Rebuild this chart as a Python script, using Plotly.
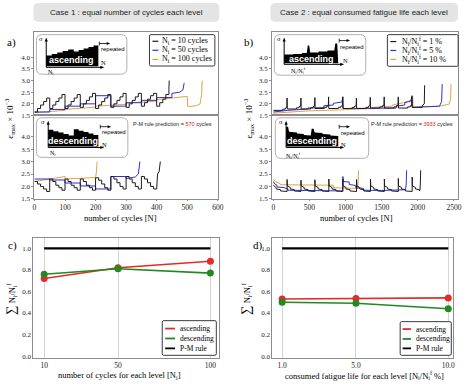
import plotly.graph_objects as go

W, H = 474, 388
SERIF = "Liberation Serif, DejaVu Serif, serif"
SANS = "Liberation Sans, Arial, sans-serif"
C_BLACK = "#1c1c1c"
C_BLUE = "#2f2fd2"
C_ORANGE = "#e6a044"
C_RED = "#e42a2a"
C_GREEN = "#208a20"
FRAME = "#8c8c8c"

# ---------------- data ----------------
# Case 1 : equal number of cycles each level (strain level per loading level, x1e-3)
a_asc_n10_levels = [1.65, 1.80, 1.95, 2.10, 2.25,
                    1.80, 1.95, 2.10, 2.25, 2.40,
                    1.80, 1.95, 2.10, 2.25, 2.40,
                    1.85, 2.00, 2.15, 2.30, 2.45,
                    1.80, 1.95, 2.10, 2.25, 2.40,
                    1.85, 2.00, 2.15, 2.30, 2.45,
                    1.85, 2.00, 2.15, 2.30, 2.45,
                    1.90, 2.05, 2.20, 2.35, 2.45,
                    1.90, 2.05, 2.20, 2.40]
a_asc_n10_tail_x = [440, 441]
a_asc_n10_tail_y = [2.6, 3.0]

a_asc_n50_levels = [1.65, 1.76, 1.90, 2.00, 2.35, 1.90, 2.05, 2.15, 2.27]
a_asc_n50_tail_x = [450, 475, 486, 490]
a_asc_n50_tail_y = [2.45, 2.5, 2.6, 2.9]

a_asc_n100_x = [0, 100, 100, 200, 200, 300, 300, 400, 400, 495, 500, 502, 530, 542, 547, 549]
a_asc_n100_y = [1.62, 1.72, 1.76, 1.86, 1.90, 1.98, 2.03, 2.12, 2.18, 2.30, 2.32, 1.88, 1.92, 2.0, 2.4, 3.0]

a_desc_n10_levels = [2.20, 2.10, 2.00, 1.90, 1.80,
                     2.30, 2.20, 2.05, 1.95, 1.85,
                     2.30, 2.20, 2.05, 1.95, 1.85,
                     2.30, 2.20, 2.05, 1.95, 1.85,
                     2.35, 2.25, 2.10, 1.95, 1.85,
                     2.40, 2.30, 2.15, 2.00, 1.90,
                     2.40, 2.30, 2.15, 2.00, 1.90,
                     2.40, 2.30, 2.15, 2.00, 1.90]
a_desc_n10_tail_x = [403, 408, 412]
a_desc_n10_tail_y = [2.5, 2.6, 3.0]

a_desc_n50_levels = [2.30, 2.26, 2.14, 2.02, 1.90, 2.40]
a_desc_n50_tail_x = [300, 300, 330, 340, 345]
a_desc_n50_tail_y = [2.40, 2.32, 2.38, 2.5, 3.0]

a_desc_n100_x = [0, 50, 100, 100, 150, 200, 203, 205]
a_desc_n100_y = [2.2, 2.3, 2.4, 2.3, 2.33, 2.36, 2.6, 3.0]

# Case 2 : equal consumed fatigue life each level
b_asc_p1_spikes = [190, 382, 575, 765, 960, 1150, 1342, 1535, 1730, 1920]
b_asc_p1_peaks = [2.25, 2.25, 2.27, 2.30, 2.30, 2.25, 2.28, 2.30, 2.30, 2.35]
b_asc_p1_bases = [1.72, 1.78, 1.78, 1.80, 1.80, 1.80, 1.80, 1.82, 1.82, 1.82, 1.85]
b_asc_p1_tooth_dx = [-60, -60, -25, -25, -4]
b_asc_p1_tooth_dy = [0.0, 0.05, 0.05, 0.10, 0.12]
b_asc_p1_tail_x = [2060, 2060, 2090, 2095]
b_asc_p1_tail_y = [1.85, 1.92, 2.0, 2.8]

b_asc_p5_x = [0, 200, 480, 480, 700, 700, 830, 830, 950, 962, 966, 970, 1700, 1700, 1820, 1820, 1905,
              1915, 1920, 1925, 2300, 2330, 2338]
b_asc_p5_y = [1.65, 1.72, 1.78, 1.82, 1.84, 1.92, 1.95, 2.02, 2.08, 2.30, 1.95, 1.80, 1.82, 1.90, 1.95,
              2.05, 2.12, 2.30, 1.90, 1.85, 1.90, 2.10, 2.85]

b_asc_p10_x = [0, 200, 500, 900, 1300, 1380, 1380, 1650, 1650, 1800, 1900, 1930, 1935, 2300, 2430, 2455, 2460]
b_asc_p10_y = [1.60, 1.65, 1.70, 1.74, 1.78, 1.80, 1.85, 1.90, 1.95, 2.05, 2.15, 2.30, 1.85, 1.90, 1.98, 2.2, 2.85]

b_desc_p1_head_x = [0, 40, 40, 100, 100]
b_desc_p1_head_y = [2.05, 1.95, 1.90, 1.87, 1.82]
b_desc_p1_spikes = [190, 382, 575, 768, 962, 1152, 1345, 1537, 1730, 1922]
b_desc_p1_peaks = [2.28, 2.25, 2.27, 2.30, 2.30, 2.28, 2.30, 2.30, 2.32, 2.38]
b_desc_p1_after_dx = [4, 45, 45, 100, 100]
b_desc_p1_after_y = [2.02, 1.96, 1.90, 1.87, 1.82]
b_desc_p1_low = 1.80
b_desc_p1_tail_x = [2030, 2035, 2040]
b_desc_p1_tail_y = [1.85, 2.1, 2.65]

b_desc_p5_x = [0, 20, 50, 50, 150, 200, 200, 500, 960, 963, 970, 1050, 1050, 1140, 1140, 1250, 1250,
               1500, 1830, 1840, 1845]
b_desc_p5_y = [2.20, 2.10, 2.05, 1.98, 1.95, 1.90, 1.85, 1.83, 1.82, 2.40, 2.20, 2.18, 2.08, 2.04, 1.95,
               1.92, 1.85, 1.84, 1.87, 2.1, 2.65]

b_desc_p10_x = [0, 30, 100, 100, 830, 830, 1170, 1175, 1180]
b_desc_p10_y = [2.30, 2.20, 2.10, 2.07, 2.05, 1.95, 1.92, 2.2, 2.65]

# panels c and d
c_x = [10, 50, 100]
c_asc = [0.72, 0.82, 0.88]
c_desc = [0.76, 0.81, 0.77]
c_pm = [1.0, 1.0, 1.0]
d_x = [1.0, 5.0, 10.0]
d_asc = [0.53, 0.535, 0.54]
d_desc = [0.50, 0.49, 0.44]
d_pm = [1.0, 1.0, 1.0]

pm_case1 = 570
pm_case2 = 3933


# ---------------- helpers ----------------
def steps(levels, n):
    xs, ys = [], []
    for i, v in enumerate(levels):
        xs += [i * n, (i + 1) * n]
        ys += [v, v]
    return xs, ys


def spiky_asc():
    xs, ys = [0], [b_asc_p1_bases[0]]
    for i, s in enumerate(b_asc_p1_spikes):
        b = b_asc_p1_bases[i]
        for dx, dy in zip(b_asc_p1_tooth_dx, b_asc_p1_tooth_dy):
            xs.append(s + dx)
            ys.append(b + dy)
        xs += [s, s + 3, s + 3]
        ys += [b_asc_p1_peaks[i], b + 0.1, b_asc_p1_bases[i + 1]]
    xs += b_asc_p1_tail_x
    ys += b_asc_p1_tail_y
    return xs, ys


def spiky_desc():
    xs, ys = list(b_desc_p1_head_x), list(b_desc_p1_head_y)
    for i, s in enumerate(b_desc_p1_spikes):
        xs += [s, s]
        ys += [b_desc_p1_low, b_desc_p1_peaks[i]]
        for dx, v in zip(b_desc_p1_after_dx, b_desc_p1_after_y):
            xs.append(s + dx)
            ys.append(v)
    xs += b_desc_p1_tail_x
    ys += b_desc_p1_tail_y
    return xs, ys


def dom_x(a, b):
    return [a / W, b / W]


def dom_y(top, bottom):
    return [1 - bottom / H, 1 - top / H]


shapes, annos = [], []


def P(x, y):
    return f"{x / W:.5f},{1 - y / H:.5f}"


def poly(pts, fill="black", lw=0, lc=None):
    path = "M" + " L".join(P(x, y) for x, y in pts) + " Z"
    shapes.append(dict(type="path", xref="paper", yref="paper", path=path, fillcolor=fill,
                       line=dict(width=lw, color=lc or fill)))


def line(x0, y0, x1, y1, color="black", w=1):
    shapes.append(dict(type="line", xref="paper", yref="paper", x0=x0 / W, y0=1 - y0 / H,
                       x1=x1 / W, y1=1 - y1 / H, line=dict(color=color, width=w)))


def rrect(x0, y0, x1, y1, r, fill, lc, lw=1):
    path = (f"M{P(x0 + r, y0)} L{P(x1 - r, y0)} Q{P(x1, y0)} {P(x1, y0 + r)} "
            f"L{P(x1, y1 - r)} Q{P(x1, y1)} {P(x1 - r, y1)} L{P(x0 + r, y1)} "
            f"Q{P(x0, y1)} {P(x0, y1 - r)} L{P(x0, y0 + r)} Q{P(x0, y0)} {P(x0 + r, y0)} Z")
    shapes.append(dict(type="path", xref="paper", yref="paper", path=path, fillcolor=fill,
                       line=dict(width=lw, color=lc)))


def txt(x, y, s, size, color="black", family=SERIF, xanchor="center", angle=0):
    annos.append(dict(x=x / W, y=1 - y / H, xref="paper", yref="paper", text=s, showarrow=False,
                      font=dict(size=size, color=color, family=family), xanchor=xanchor,
                      yanchor="middle", textangle=angle, borderpad=0))


def arrow_h(x0, x1, y, head=3):
    line(x0, y, x1 - head, y, "black", 1)
    poly([(x1, y), (x1 - head - 1, y - 1.6), (x1 - head - 1, y + 1.6)])


def arrow_v(x, y0, y1):
    line(x, y0, x, y1 + 3, "black", 1)
    poly([(x, y1), (x - 1.6, y1 + 4), (x + 1.6, y1 + 4)])


def repeated(x, y):
    line(x, y - 2, x, y + 2, "black", 0.8)
    line(x, y, x + 8, y, "black", 0.8)
    poly([(x + 11, y), (x + 7.5, y - 1.5), (x + 7.5, y + 1.5)])


def inset(box, sig_x, base_y, top_y, shape_pts, label, label_pos, ni_text, ni_pos, n_pos, rep_pos,
          rep_txt_pos):
    rrect(*box, 6, "white", "#b0b0b0", 1)
    arrow_v(sig_x, base_y + 1, top_y)
    txt(sig_x - 5, top_y + 1, "σ", 6.5)
    poly(shape_pts)
    arrow_h(sig_x, shape_pts[-1][0] + 6, base_y + 1)
    txt(label_pos[0], label_pos[1], "<b>" + label + "</b>", 9, "white", SANS)
    txt(n_pos[0], n_pos[1], "N", 6.5)
    txt(ni_pos[0], ni_pos[1], ni_text, 6)
    repeated(*rep_pos)
    txt(rep_txt_pos[0], rep_txt_pos[1], "repeated", 6, "black", SANS)


def step_shape(x0, x1, tops, bottom):
    pts = [(x0, bottom)]
    n = len(tops)
    for i, t in enumerate(tops):
        xa = x0 + (x1 - x0) * i / n
        xb = x0 + (x1 - x0) * (i + 1) / n
        pts += [(xa, t), (xb, t)]
    pts.append((x1, bottom))
    return pts


# ---------------- figure ----------------
fig = go.Figure()


def add(x, y, color, xa, ya, width=1.0):
    fig.add_trace(go.Scatter(x=x, y=y, mode="lines", line=dict(color=color, width=width),
                             xaxis=xa, yaxis=ya, showlegend=False, hoverinfo="skip"))


# panel a top (ascending)
add(a_asc_n100_x, a_asc_n100_y, C_ORANGE, "x", "y")
xs, ys = steps(a_asc_n50_levels, 50)
add(xs + a_asc_n50_tail_x, ys + a_asc_n50_tail_y, C_BLUE, "x", "y")
xs, ys = steps(a_asc_n10_levels, 10)
add(xs + a_asc_n10_tail_x, ys + a_asc_n10_tail_y, C_BLACK, "x", "y")
# panel a bottom (descending)
add(a_desc_n100_x, a_desc_n100_y, C_ORANGE, "x2", "y2")
xs, ys = steps(a_desc_n50_levels, 50)
add(xs + a_desc_n50_tail_x, ys + a_desc_n50_tail_y, C_BLUE, "x2", "y2")
xs, ys = steps(a_desc_n10_levels, 10)
add(xs + a_desc_n10_tail_x, ys + a_desc_n10_tail_y, C_BLACK, "x2", "y2")
# panel b top (ascending)
add(b_asc_p10_x, b_asc_p10_y, C_ORANGE, "x3", "y3")
add(b_asc_p5_x, b_asc_p5_y, C_BLUE, "x3", "y3")
xs, ys = spiky_asc()
add(xs, ys, C_BLACK, "x3", "y3")
# panel b bottom (descending)
add(b_desc_p10_x, b_desc_p10_y, C_ORANGE, "x4", "y4")
add(b_desc_p5_x, b_desc_p5_y, C_BLUE, "x4", "y4")
xs, ys = spiky_desc()
add(xs, ys, C_BLACK, "x4", "y4")

# panels c, d
for xa, ya, xv, asc, desc, pm in (("x5", "y5", c_x, c_asc, c_desc, c_pm),
                                  ("x6", "y6", d_x, d_asc, d_desc, d_pm)):
    fig.add_trace(go.Scatter(x=xv, y=pm, mode="lines", line=dict(color="black", width=2.2),
                             xaxis=xa, yaxis=ya, showlegend=False))
    fig.add_trace(go.Scatter(x=xv, y=asc, mode="lines+markers", line=dict(color=C_RED, width=1.6),
                             marker=dict(size=7, color=C_RED), xaxis=xa, yaxis=ya, showlegend=False))
    fig.add_trace(go.Scatter(x=xv, y=desc, mode="lines+markers", line=dict(color=C_GREEN, width=1.6),
                             marker=dict(size=7, color=C_GREEN), xaxis=xa, yaxis=ya, showlegend=False))

tickfont = dict(family=SERIF, size=7, color="#222")
xtickfont = dict(family=SERIF, size=7.5, color="#222")
common = dict(showline=True, linecolor=FRAME, linewidth=1, mirror=True, zeroline=False, showgrid=False)
ytick_a = dict(tickvals=[1.5, 2.0, 2.5, 3.0, 3.5, 4.0], ticktext=["1.5", "2.0", "2.5", "3.0", "3.5", "4.0"],
               ticks="outside", ticklen=2, tickcolor=FRAME, tickfont=tickfont)

layout = dict(width=W, height=H, margin=dict(l=0, r=0, t=0, b=0), paper_bgcolor="white",
              plot_bgcolor="white", showlegend=False)
# panel a
layout["xaxis"] = dict(domain=dom_x(33, 219.5), range=[0, 600], showticklabels=False, anchor="y", **common)
layout["yaxis"] = dict(domain=dom_y(32, 116.7), range=[1.5, 5.1], anchor="x", **ytick_a, **common)
layout["xaxis2"] = dict(domain=dom_x(33, 219.5), range=[0, 600], anchor="y2",
                        tickvals=[0, 100, 200, 300, 400, 500, 600], ticks="outside", ticklen=1,
                        tickcolor=FRAME, tickfont=xtickfont, **common)
layout["yaxis2"] = dict(domain=dom_y(116.7, 201), range=[1.5, 4.85], anchor="x2", **ytick_a, **common)
# panel b
layout["xaxis3"] = dict(domain=dom_x(274.7, 463.7), range=[-18, 2555], showticklabels=False, anchor="y3", **common)
layout["yaxis3"] = dict(domain=dom_y(32, 116.7), range=[1.5, 5.1], anchor="x3", **ytick_a, **common)
layout["xaxis4"] = dict(domain=dom_x(274.7, 463.7), range=[-18, 2555], anchor="y4",
                        tickvals=[0, 500, 1000, 1500, 2000, 2500], ticks="outside", ticklen=1, tickcolor=FRAME,
                        tickfont=xtickfont, **common)
layout["yaxis4"] = dict(domain=dom_y(116.7, 201), range=[1.5, 4.85], anchor="x4", **ytick_a, **common)
# panel c
cd_y = dict(range=[-0.02, 1.1], tickvals=[0, 0.2, 0.4, 0.6, 0.8, 1.0],
            ticktext=["0.0", "0.2", "0.4", "0.6", "0.8", "1.0"], tickfont=tickfont, ticks="",
            showline=True, linecolor=FRAME, linewidth=1, mirror=True, zeroline=False, showgrid=False)
layout["xaxis5"] = dict(domain=dom_x(32, 221), range=[4.2, 104.8], tickvals=c_x, ticktext=["10", "50", "100"],
                        anchor="y5", showgrid=True, gridcolor="#d4d4d4", gridwidth=1, zeroline=False,
                        showline=True, linecolor=FRAME, linewidth=1, mirror=True, tickfont=xtickfont)
layout["yaxis5"] = dict(domain=dom_y(240, 362), anchor="x5", **cd_y)
layout["xaxis6"] = dict(domain=dom_x(275, 459), range=[0.47, 10.27], tickvals=d_x, ticktext=["1.0", "5.0", "10.0"],
                        anchor="y6", showgrid=True, gridcolor="#d4d4d4", gridwidth=1, zeroline=False,
                        showline=True, linecolor=FRAME, linewidth=1, mirror=True, tickfont=xtickfont)
layout["yaxis6"] = dict(domain=dom_y(240, 362), anchor="x6", **cd_y)

# ---------------- decorations ----------------
rrect(32, 3, 221, 22, 5, "#e4e4e4", "#e4e4e4", 0)
txt(126.5, 13, "Case 1 : equal number of cycles each level", 8, "#222", SANS)
rrect(273, 3, 464, 22, 5, "#e4e4e4", "#e4e4e4", 0)
txt(368.5, 13, "Case 2 : equal consumed fatigue life each level", 8, "#222", SANS)

txt(10, 43, "a)", 11)
txt(251, 43, "b)", 11)
txt(11, 248, "c)", 11)
txt(260, 248, "d)", 11)

ylab = "ε<sub>max</sub> × 10<sup>−3</sup>"
txt(8, 120, ylab, 9, angle=-90)
txt(251, 120, ylab, 9, angle=-90)
txt(121, 220.5, "number of cycles [N]", 8.5)
txt(361, 220.5, "number of cycles [N]", 8.5)
txt(120, 379, "number of cycles for each level [N<sub>i</sub>]", 8.5)
txt(369, 379, "consumed fatigue life for each level [N<sub>i</sub>/N<sub>i</sub><sup>f</sup> %]", 8.5)
sumlab = "<span style='font-size:13px'>∑</span> N<sub>i</sub>/N<sub>i</sub><sup>f</sup>"
txt(9, 302, sumlab, 8.5, angle=-90)
txt(248, 302, sumlab, 8.5, angle=-90)

txt(173, 125, f"P-M rule prediction = <span style='color:#e02020'>{pm_case1}</span> cycles", 5.5, "#222", SANS)
txt(417, 125, f"P-M rule prediction = <span style='color:#e02020'>{pm_case2}</span> cycles", 5.5, "#222", SANS)

# insets, case 1
inset((35, 35, 127, 75), 45, 67, 38,
      step_shape(45, 73, [56, 54.5, 53, 51.5, 50], 67)[:-1] + step_shape(73, 98, [52, 50.5, 49, 47.5, 46], 67)[1:],
      "ascending", (71, 60.5), "N<sub>i</sub>", (50, 73), (103, 63), (99, 44), (112.5, 49.5))
inset((35, 119, 128, 159), 47, 148, 122,
      step_shape(47, 73, [131, 132.5, 134, 135.5, 137], 148)[:-1] + step_shape(73, 98, [130.5, 132, 133.5, 135, 136.5], 148)[1:],
      "descending", (72, 142.5), "N<sub>i</sub>", (52, 155), (104, 146), (100, 128), (113.5, 133.5))
# insets, case 2
asc2 = [(287, 64), (287, 55), (296, 55), (296, 54.5), (305, 54.5), (305, 53.5), (310, 53.5), (311, 46), (312.5, 46),
        (313.5, 53), (322, 53), (322, 52), (331, 52), (331, 51), (338, 51), (339, 44), (341, 44), (342, 64)]
inset((277, 35, 370, 76), 287, 64, 38, asc2, "ascending", (315, 59.5), "N<sub>i</sub>/N<sub>i</sub><sup>f</sup>",
      (302, 71), (349, 61.5), (343, 41), (356.5, 47))
desc2 = [(289, 148), (289, 128), (291, 128), (292, 133), (300, 134), (300, 135), (307, 135.5), (307, 136.5),
         (314, 137), (315, 130), (317, 130), (318, 134), (326, 134.5), (326, 135.5), (334, 136), (334, 137),
         (342, 137.5), (342, 148)]
inset((278, 119, 373, 160), 289, 148, 122, desc2, "descending", (315, 142.5),
      "N<sub>i</sub>/N<sub>i</sub><sup>f</sup>", (297, 157), (347, 145.5), (343, 128), (357.5, 134))


# legends (drawn)
def legend_box(x0, y0, x1, y1, entries, lx0, lx1, tx, size, lw):
    rrect(x0, y0, x1, y1, 1.5, "white", "#3a3a3a", 1)
    for (yy, color, label) in entries:
        line(lx0, yy, lx1, yy, color, lw)
        txt(tx, yy, label, size, "black", SERIF, "left")


legend_box(150, 35, 216.5, 66.7, [(41.7, C_BLACK, "N<sub>i</sub> = 10 cycles"),
                                   (50.8, C_BLUE, "N<sub>i</sub> = 50 cycles"),
                                   (60, C_ORANGE, "N<sub>i</sub> = 100 cycles")], 153, 159, 162, 8, 1.2)
legend_box(392, 35, 464, 67, [(42, C_BLACK, "N<sub>i</sub>/N<sub>i</sub><sup>f</sup> = 1 %"),
                               (51, C_BLUE, "N<sub>i</sub>/N<sub>i</sub><sup>f</sup> = 5 %"),
                               (60, C_ORANGE, "N<sub>i</sub>/N<sub>i</sub><sup>f</sup> = 10 %")], 395, 401, 406, 8, 1.2)
legend_box(163, 324, 218, 359, [(332, C_RED, "ascending"), (342, C_GREEN, "descending"),
                                 (352, "black", "P-M rule")], 166, 176, 180, 7.5, 1.8)
legend_box(405, 325, 457, 359, [(332.5, C_RED, "ascending"), (342.5, C_GREEN, "descending"),
                                 (352, "black", "P-M rule")], 407.5, 416, 420, 7.5, 1.8)

layout["shapes"] = shapes
layout["annotations"] = annos
fig.update_layout(**layout)
fig.write_html("out.html")
